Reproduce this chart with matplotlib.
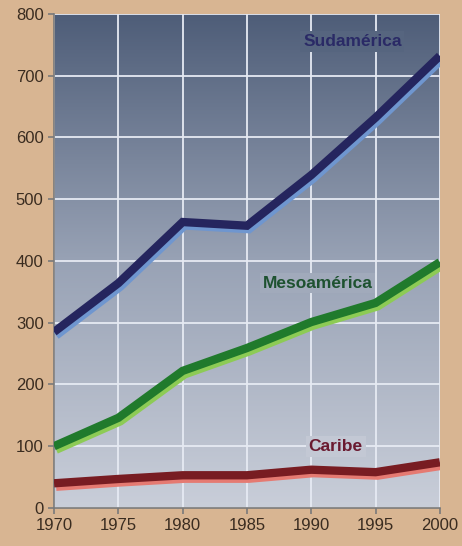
import numpy as np
import matplotlib
matplotlib.use("Agg")
from matplotlib import pyplot as plt
import matplotlib.patheffects as pe
from matplotlib.colors import LinearSegmentedColormap

years = [1970, 1975, 1980, 1985, 1990, 1995, 2000]
sudamerica = [285, 364, 463, 457, 539, 632, 732]
mesoamerica = [100, 146, 222, 259, 301, 332, 398]
caribe = [40, 47, 53, 53, 62, 58, 74]

plt.rcParams['font.family'] = ['Liberation Sans', 'DejaVu Sans']

fig = plt.figure(figsize=(4.62, 5.46), dpi=100)
fig.patch.set_facecolor('#D8B592')
ax = fig.add_axes([0.117, 0.0696, 0.835, 0.905])

# gradient background of the plot area
cmap = LinearSegmentedColormap.from_list('bg', ['#C9CED9', '#98A2B5', '#4E5D78'])
grad = np.linspace(0, 1, 256).reshape(-1, 1)
ax.imshow(grad, extent=[1970, 2000, 0, 800], origin='lower', aspect='auto',
          cmap=cmap, zorder=0)

ax.set_xlim(1970, 2000)
ax.set_ylim(0, 800)
ax.set_xticks(years)
ax.set_yticks(np.arange(0, 801, 100))
ax.grid(True, color='#E6EAF3', linewidth=1.3, zorder=1)

series = [
    (sudamerica, '#25255E', '#6F96CF'),
    (mesoamerica, '#207A2C', '#8DCB55'),
    (caribe, '#781C22', '#E57A72'),
]
for vals, col, shadow in series:
    ax.plot(years, vals, color=col, linewidth=6, zorder=3,
            solid_capstyle='butt', solid_joinstyle='miter',
            path_effects=[pe.SimpleLineShadow(offset=(1.5, -2.5), shadow_color=shadow, alpha=1),
                          pe.Normal()])

ax.text(1993.2, 755, 'Sudamérica', color='#2A2A66', fontsize=12.5, fontweight='bold',
        ha='center', va='center', zorder=2,
        bbox=dict(facecolor='#56657F', edgecolor='none', pad=2))
ax.text(1990.5, 364, 'Mesoamérica', color='#1E5230', fontsize=12.5, fontweight='bold',
        ha='center', va='center', zorder=2,
        bbox=dict(facecolor='#A1AABB', edgecolor='none', pad=2))
ax.text(1991.9, 100, 'Caribe', color='#6A1A30', fontsize=12.5, fontweight='bold',
        ha='center', va='center', zorder=2,
        bbox=dict(facecolor='#C3C8D4', edgecolor='none', pad=2))

for s in ['top', 'right']:
    ax.spines[s].set_visible(False)
for s in ['left', 'bottom']:
    ax.spines[s].set_color('#7A7A7A')
    ax.spines[s].set_linewidth(1.2)
ax.tick_params(colors='#7A7A7A', length=4, width=1.2, labelsize=12, labelcolor='#3A2C20')

fig.savefig('out.png', dpi=100, facecolor=fig.get_facecolor())
